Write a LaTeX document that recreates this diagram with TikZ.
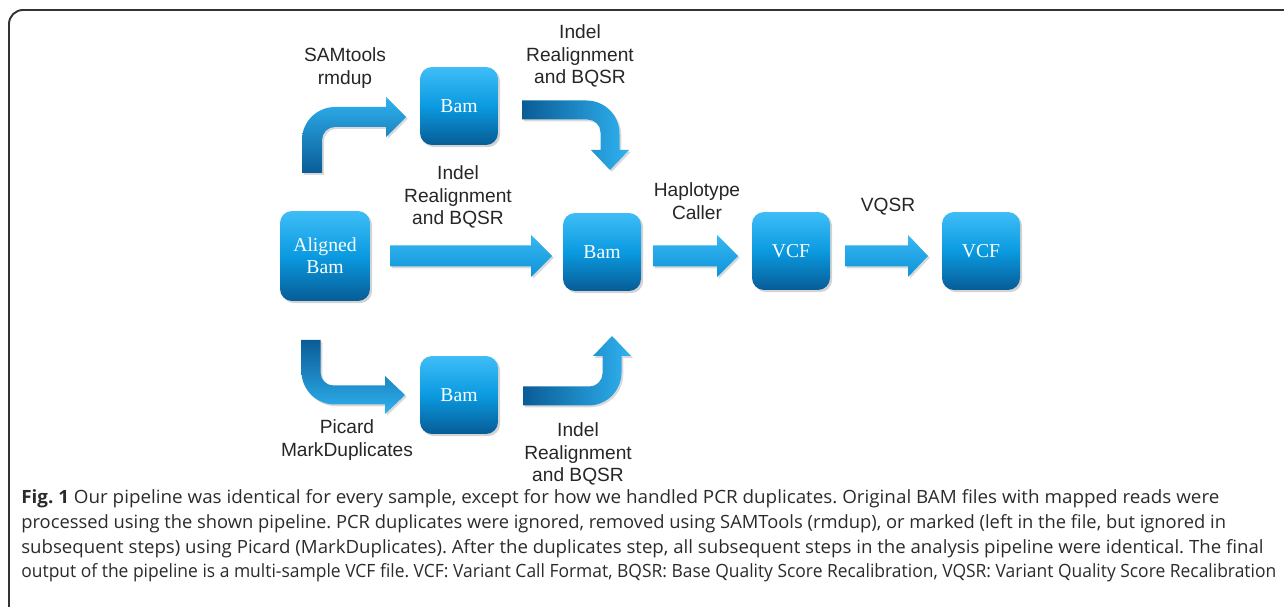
\documentclass[tikz,border=0pt]{standalone}
\usepackage{fontspec}
\usepackage{graphicx}
\usepackage{tikz}
\usetikzlibrary{shadows}
\newfontfamily\lblfont{Liberation Sans}
\newfontfamily\boxfont{Liberation Serif}
\newfontfamily\capfont{Open Sans}

\begin{document}
\begin{tikzpicture}[x=0.02cm, y=-0.02cm,
  filebox/.style={rounded corners=0.24cm, minimum size=1.56cm, inner sep=0pt,
    align=center, text=white, top color=boxtop, bottom color=boxbot,
    middle color=boxmid, font=\boxfont\fontsize{11.2}{12.6}\selectfont,
    drop shadow={shadow xshift=1.2pt, shadow yshift=-1.2pt, opacity=0.35}},
  steplabel/.style={align=center, text=black!85,
    font=\lblfont\fontsize{10.9}{12.8}\selectfont},
  flatarrow/.style={top color=arrtop, bottom color=arrbot,
    drop shadow={shadow xshift=1pt, shadow yshift=-1pt, opacity=0.3}},
  bentshade/.style={drop shadow={shadow xshift=1pt, shadow yshift=-1pt, opacity=0.3}}]

\definecolor{boxtop}{HTML}{3FBDF7}
\definecolor{boxmid}{HTML}{0A9AE0}
\definecolor{boxbot}{HTML}{075C96}
\definecolor{arrtop}{HTML}{38B8F3}
\definecolor{arrbot}{HTML}{0E93D8}
\definecolor{arrlight}{HTML}{2FB2F0}
\definecolor{arrdark}{HTML}{0A5C96}
\definecolor{captext}{HTML}{2B2B2B}

\clip (0,0) rectangle (1284,607);
\draw[line width=1.1pt, black!80, rounded corners=0.28cm] (9,640) -- (9,10) -- (1320,10);

% files
\node[filebox, minimum size=1.8cm] (aligned) at (325,256) {Aligned\\Bam};
\node[filebox] (bamtop) at (459,106) {Bam};
\node[filebox] (bammid) at (602,252) {Bam};
\node[filebox] (bambot) at (459,395) {Bam};
\node[filebox] (vcfa) at (791,251) {VCF};
\node[filebox] (vcfb) at (981,251) {VCF};

% straight arrows
\shade[flatarrow] (390,245.5) -- (531,245.5) -- (531,235) -- (552,256)
  -- (531,277) -- (531,266.5) -- (390,266.5) -- cycle;
\shade[flatarrow] (653,245.5) -- (717,245.5) -- (717,235) -- (738,256)
  -- (717,277) -- (717,266.5) -- (653,266.5) -- cycle;
\shade[flatarrow] (845,245.5) -- (908,245.5) -- (908,235) -- (928,256)
  -- (908,277) -- (908,266.5) -- (845,266.5) -- cycle;

% bent arrows
\shade[bentshade, top color=arrlight, middle color=arrlight, bottom color=arrdark]
  (302,173) -- (302,140) .. controls (302,121.8) and (316.8,107) .. (335,107)
  -- (386,107) -- (386,97) -- (406,117) -- (386,137) -- (386,127) -- (335,127)
  .. controls (327.8,127) and (322,132.8) .. (322,140) -- (322,173) -- cycle;
\shade[bentshade, left color=arrdark, middle color=arrlight, right color=arrlight]
  (522,100.5) -- (586.5,100.5) .. controls (604.7,100.5) and (619.5,115.3) .. (619.5,133.5)
  -- (619.5,150) -- (629,150) -- (610,170) -- (591,150) -- (600.5,150) -- (600.5,132.5)
  .. controls (600.5,125.3) and (594.7,119.5) .. (587.5,119.5) -- (522,119.5) -- cycle;
\shade[bentshade, top color=arrdark, middle color=arrlight, bottom color=arrlight]
  (301.5,340) -- (301.5,371.5) .. controls (301.5,389.7) and (316.3,404.5) .. (334.5,404.5)
  -- (385,404.5) -- (385,414) -- (405,395) -- (385,376) -- (385,385.5) -- (333.5,385.5)
  .. controls (326.3,385.5) and (320.5,379.7) .. (320.5,372.5) -- (320.5,340) -- cycle;
\shade[bentshade, left color=arrdark, middle color=arrlight, right color=arrlight]
  (523,405.5) -- (588.5,405.5) .. controls (606.7,405.5) and (621.5,390.7) .. (621.5,372.5)
  -- (621.5,356) -- (631,356) -- (612,336) -- (593,356) -- (602.5,356) -- (602.5,373.5)
  .. controls (602.5,380.3) and (596.7,386.5) .. (589.5,386.5) -- (523,386.5) -- cycle;

% step labels
\node[steplabel] (samlbl) at (345,68) {SAMtools\\rmdup};
\node[steplabel] (topindel) at (580,56) {Indel\\Realignment\\and BQSR};
\node[steplabel] (midindel) at (458,197) {Indel\\Realignment\\and BQSR};
\node[steplabel] (haplbl) at (697,201) {Haplotype\\Caller};
\node[steplabel] (vqsrlbl) at (888,207) {VQSR};
\node[steplabel] (piclbl) at (347,440) {Picard\\MarkDuplicates};
\node[steplabel] (botindel) at (578,454) {Indel\\Realignment\\and BQSR};

% caption
\node[anchor=north west, inner sep=0pt, align=left, text=captext,
  font=\capfont\fontsize{10.4}{14}\selectfont\frenchspacing] (caption) at (21,489.5)
  {\scalebox{1.03}[1]{\textbf{Fig. 1} Our pipeline was identical for every sample, except for how we handled PCR duplicates. Original BAM files with mapped reads were}\\
  \scalebox{1.004}[1]{processed using the shown pipeline. PCR duplicates were ignored, removed using SAMTools (rmdup), or marked (left in the file, but ignored in}\\
  \scalebox{1.02}[1]{subsequent steps) using Picard (MarkDuplicates). After the duplicates step, all subsequent steps in the analysis pipeline were identical. The final}\\
  \scalebox{0.955}[1]{output of the pipeline is a multi-sample VCF file. VCF: Variant Call Format, BQSR: Base Quality Score Recalibration, VQSR: Variant Quality Score Recalibration}};

\end{tikzpicture}
\end{document}
